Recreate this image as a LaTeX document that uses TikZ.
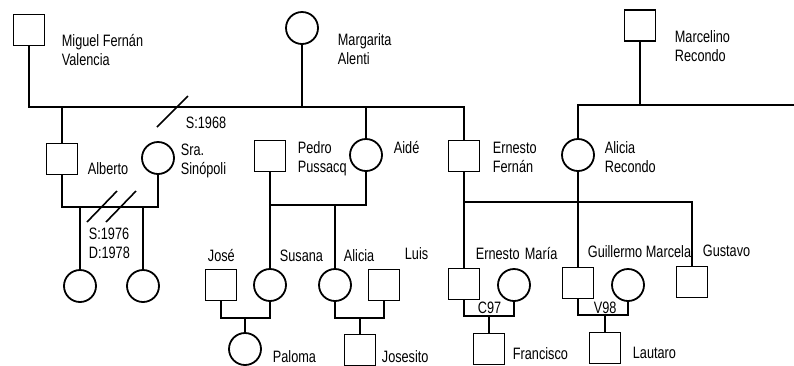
\documentclass[tikz,border=0pt]{standalone}
\usepackage{fontspec}
\setmainfont{Liberation Sans}[FakeStretch=0.77]

\begin{document}
\begin{tikzpicture}[
    x=1pt, y=-1pt,
    line width=1.8pt,
    % Styles for the family tree
    man/.style={draw, rectangle, minimum size=31pt, inner sep=0pt},
    woman/.style={draw, circle, minimum size=32pt, inner sep=0pt},
    personname/.style={font=\fontsize{16.5}{18.5}\selectfont, align=left, anchor=base west, inner sep=0pt},
    breakline/.style={line width=1.6pt}
]
\useasboundingbox (0,0) rectangle (794,365);

% ----------------------------------------------------
% FIRST GENERATION
% ----------------------------------------------------
% (two-line names are placed by the baseline of their last line)
\node[man] (miguel) at (29,30) {};
\node[personname] at (61,65) {Miguel Fernán\\Valencia};
\node[woman] (margarita) at (302,28) {};
\node[personname] at (337,64) {Margarita\\Alenti};
\node[man] (marcelino) at (640,25.5) {};
\node[personname] at (674,61) {Marcelino\\Recondo};

% ----------------------------------------------------
% SECOND GENERATION
% ----------------------------------------------------
\node[man] (alberto) at (62,159) {};
\node[personname] at (87,174) {Alberto};
\node[woman] (sinopoli) at (158,158) {};
\node[personname] at (180,174) {Sra.\\Sinópoli};
\node[man] (pedro) at (270,156) {};
\node[personname] at (297,172) {Pedro\\Pussacq};
\node[woman] (aide) at (366,155) {};
\node[personname] at (393,153) {Aidé};
\node[man] (ernf) at (464,156) {};
\node[personname] at (492,172) {Ernesto\\Fernán};
\node[woman] (aliciaR) at (578,155) {};
\node[personname] at (604,172) {Alicia\\Recondo};

% ----------------------------------------------------
% THIRD GENERATION
% ----------------------------------------------------
\node[woman] (d1) at (80,286) {};
\node[woman] (d2) at (143,286) {};
\node[man] (jose) at (221,285) {};
\node[personname] at (207,261) {José};
\node[woman] (susana) at (270,285) {};
\node[personname] at (279,261) {Susana};
\node[woman] (aliciaA) at (335,285) {};
\node[personname] at (343,261) {Alicia};
\node[man] (luis) at (384,285) {};
\node[personname] at (404,259) {Luis};
\node[man] (ernesto) at (464,284) {};
\node[personname] at (475,259) {Ernesto};
\node[woman] (maria) at (514,285) {};
\node[personname] at (524,259) {María};
\node[man] (guillermo) at (578,283) {};
\node[personname] at (587,257) {Guillermo};
\node[woman] (marcela) at (628,285) {};
\node[personname] at (645,257) {Marcela};
\node[man] (gustavo) at (692,282) {};
\node[personname] at (702,256) {Gustavo};

% ----------------------------------------------------
% FOURTH GENERATION
% ----------------------------------------------------
\node[woman] (paloma) at (245,349) {};
\node[personname] at (272,362) {Paloma};
\node[man] (josesito) at (360,350) {};
\node[personname] at (381,362) {Josesito};
\node[man] (francisco) at (489,349) {};
\node[personname] at (512,359) {Francisco};
\node[man] (lautaro) at (605,348) {};
\node[personname] at (632,358) {Lautaro};

% ----------------------------------------------------
% UNIONS & DESCENT LINES
% ----------------------------------------------------
% Miguel + Margarita
\coordinate (u1) at (302,107);
\draw (miguel.south) |- (u1) -| (ernf.north);
\draw (margarita.south) -- (u1);
\draw (alberto.north) -- (alberto.north |- u1);
\draw (aide.north) -- (aide.north |- u1);
\draw[breakline] (157,127) -- (188,96);
\node[personname] at (185,128) {S:1968};

% Marcelino, line runs off the right edge
\coordinate (u2) at (640,105);
\coordinate (u2end) at (794,105);
\draw (marcelino.south) -- (u2);
\draw (aliciaR.north) |- (u2end);

% Alberto + Sra. Sinopoli
\coordinate (u3) at (110,207);
\draw (alberto.south) |- (u3) -| (sinopoli.south);
\draw (d1.north) -- (d1.north |- u3);
\draw (d2.north) -- (d2.north |- u3);
\draw[breakline] (87,222) -- (117,191);
\draw[breakline] (106,222) -- (136,191);
\node[personname] at (88,258) {S:1976\\D:1978};

% Pedro + Aide
\coordinate (u4) at (318,205);
\draw (pedro.south) |- (u4) -| (aide.south);
\draw (susana.north) -- (susana.north |- u4);
\draw (aliciaA.north) -- (aliciaA.north |- u4);

% Ernesto Fernan + Alicia Recondo
\coordinate (u5) at (578,202);
\draw (ernf.south) |- (u5) -| (gustavo.north);
\draw (aliciaR.south) -- (u5);
\draw (ernesto.north) -- (ernesto.north |- u5);
\draw (guillermo.north) -- (guillermo.north |- u5);

% Grandchildren couples
\coordinate (u6) at (245,318);
\draw (jose.south) |- (u6) -| (susana.south);
\draw (u6) -- (paloma.north);
\coordinate (u7) at (360,318);
\draw (aliciaA.south) |- (u7) -| (luis.south);
\draw (u7) -- (josesito.north);
\coordinate (u8) at (489,316);
\draw (ernesto.south) |- (u8) -| (maria.south);
\draw (u8) -- (francisco.north);
\node[personname] at (477,313) {C97};
\coordinate (u9) at (605,315);
\draw (guillermo.south) |- (u9) -| (marcela.south);
\draw (u9) -- (lautaro.north);
\node[personname] at (593,313) {V98};

\end{tikzpicture}
\end{document}
